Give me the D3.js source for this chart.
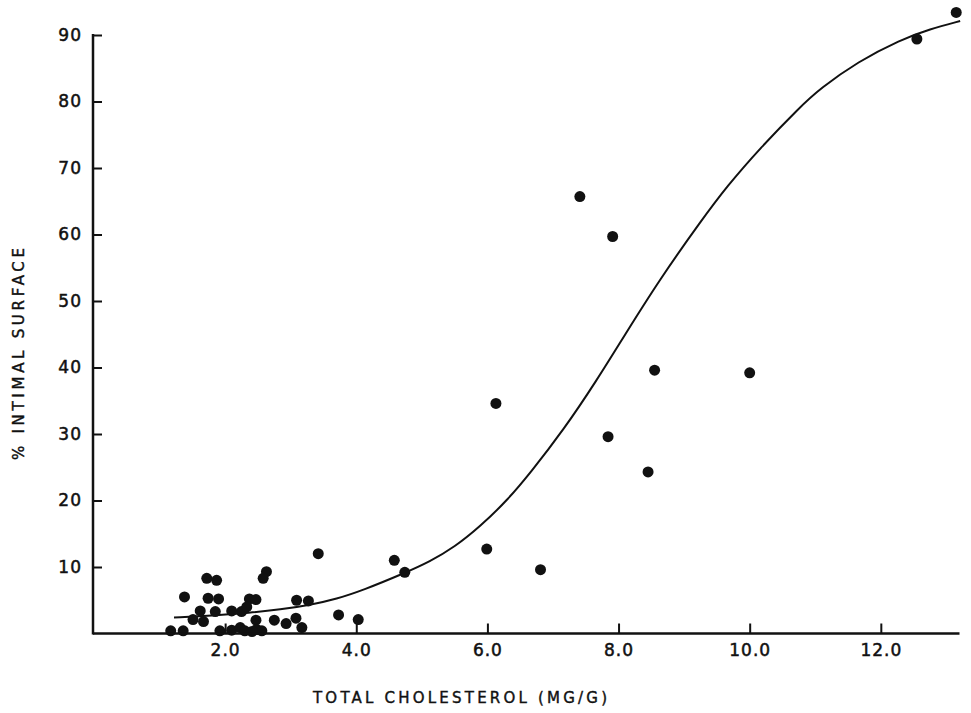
<!DOCTYPE html>
<html>
<head>
<meta charset="utf-8">
<script src="https://cdn.jsdelivr.net/npm/d3@7"></script>
<style>
  html, body { margin: 0; padding: 0; background: #fff; }
  svg { display: block; }
  text { font-family: "DejaVu Sans", "Liberation Sans", sans-serif; fill: #111; }
</style>
</head>
<body>
<svg id="chart" width="971" height="713"></svg>
<script>
// ---- data ----
const pointX = [13.15, 12.55, 7.41, 7.91, 8.55, 10.0, 6.13, 7.84, 8.45, 5.99, 6.81,
  4.58, 4.74, 3.42, 2.63, 2.58, 3.73, 4.03, 1.72, 1.87, 1.38, 1.74, 1.90, 2.37, 2.47,
  3.09, 3.27, 1.62, 1.85, 2.10, 2.25, 2.33, 1.51, 1.67, 2.47, 2.75, 2.93, 3.08, 3.17,
  1.17, 1.36, 1.92, 2.10, 2.23, 2.30, 2.48, 2.56, 2.41];
const pointY = [93.4, 89.4, 65.7, 59.7, 39.6, 39.2, 34.6, 29.6, 24.3, 12.7, 9.6,
  11.0, 9.2, 12.0, 9.3, 8.3, 2.8, 2.1, 8.3, 8.0, 5.5, 5.3, 5.2, 5.2, 5.1,
  5.0, 4.9, 3.4, 3.3, 3.4, 3.3, 4.0, 2.1, 1.8, 2.0, 2.0, 1.5, 2.3, 0.9,
  0.4, 0.4, 0.4, 0.5, 0.9, 0.4, 0.6, 0.4, 0.3];
const curveX = [1.22, 1.8, 2.38, 2.84, 3.30, 3.70, 4.10, 4.74, 5.12, 5.50, 5.89, 6.30, 6.65, 7.16, 7.67,
  8.07, 8.63, 9.27, 9.65, 10.16, 10.77, 11.07, 11.65, 12.30, 12.75, 13.21];
const curveY = [2.4, 2.7, 3.1, 3.6, 4.3, 5.2, 6.5, 9.1, 10.8, 13.0, 16.1, 20.0, 24.1, 30.6, 38.1,
  44.5, 53.3, 62.2, 67.2, 73.0, 79.2, 81.9, 86.0, 89.3, 90.9, 92.1];
const xTicks = [2, 4, 6, 8, 10, 12];
const yTicks = [10, 20, 30, 40, 50, 60, 70, 80, 90];
const xTitle = "TOTAL CHOLESTEROL (MG/G)";
const yTitle = "% INTIMAL SURFACE";

// ---- drawing ----
const svg = d3.select("#chart");
const x = d3.scaleLinear().domain([0, 13.2]).range([94, 959.5]);
const y = d3.scaleLinear().domain([0, 90]).range([633.5, 35]);

// fitted curve
const line = d3.line().x(i => x(curveX[i])).y(i => y(curveY[i])).curve(d3.curveBasis);
svg.append("path")
  .attr("d", line(d3.range(curveX.length)))
  .attr("fill", "none").attr("stroke", "#111").attr("stroke-width", 2);

// points
svg.append("g").selectAll("circle")
  .data(d3.range(pointX.length))
  .join("circle")
  .attr("cx", i => x(pointX[i]))
  .attr("cy", i => y(pointY[i]))
  .attr("r", 5.5)
  .attr("fill", "#111");

// x axis
const xAxis = d3.axisBottom(x).tickValues(xTicks).tickFormat(d3.format(".1f"))
  .tickSizeInner(-10).tickSizeOuter(0).tickPadding(10);
const gx = svg.append("g").attr("transform", `translate(0,${y(0)})`).call(xAxis);
gx.select(".domain").attr("stroke", "#111").attr("stroke-width", 2.5)
  .attr("d", `M${x(0) - 1},0H${x(13.2)}`);
gx.selectAll(".tick line").attr("stroke", "#111").attr("stroke-width", 2);
gx.selectAll(".tick text").attr("font-size", 17).attr("letter-spacing", 1)
  .style("font-family", '"DejaVu Sans", sans-serif').attr("fill", "#111")
  .attr("stroke", "#111").attr("stroke-width", 0.5);

// y axis
const yAxis = d3.axisLeft(y).tickValues(yTicks).tickFormat(d3.format("d"))
  .tickSizeInner(-9).tickSizeOuter(0).tickPadding(11);
const gy = svg.append("g").attr("transform", `translate(${x(0) - 1},0)`).call(yAxis);
gy.select(".domain").attr("stroke", "#111").attr("stroke-width", 2.5)
  .attr("d", `M0,${y(90) - 1}V${y(0) + 1}`);
gy.selectAll(".tick line").attr("stroke", "#111").attr("stroke-width", 2);
gy.selectAll(".tick text").attr("font-size", 17).attr("letter-spacing", 1)
  .style("font-family", '"DejaVu Sans", sans-serif').attr("fill", "#111")
  .attr("stroke", "#111").attr("stroke-width", 0.5);

// titles
svg.append("text")
  .attr("x", 460).attr("y", 703)
  .attr("text-anchor", "middle")
  .attr("font-size", 15)
  .attr("stroke", "#111").attr("stroke-width", 0.4)
  .attr("textLength", 294).attr("lengthAdjust", "spacing")
  .text(xTitle);

svg.append("text")
  .attr("transform", "translate(24,354) rotate(-90)")
  .attr("text-anchor", "middle")
  .attr("font-size", 15)
  .attr("stroke", "#111").attr("stroke-width", 0.4)
  .attr("textLength", 212).attr("lengthAdjust", "spacing")
  .text(yTitle);
</script>
</body>
</html>
